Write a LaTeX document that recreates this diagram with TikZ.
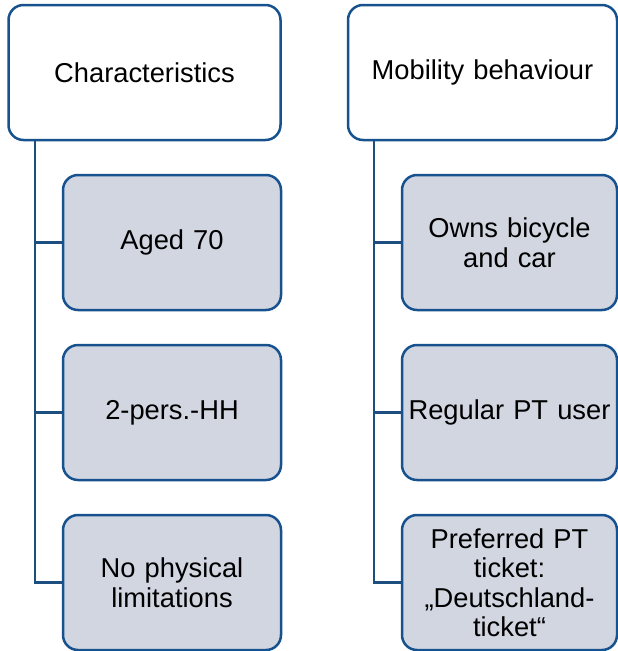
\documentclass[tikz,border=0pt]{standalone}
\usepackage{fontspec}
\setmainfont{Liberation Sans}
\definecolor{frame}{HTML}{17528F}
\definecolor{boxfill}{HTML}{D1D6E1}
\definecolor{linkcol}{HTML}{1D4E80}
\begin{document}
\begin{tikzpicture}[x=1pt,y=-1pt,
  head/.style={draw=frame, line width=2.5pt, fill=white, rounded corners=15pt,
    minimum height=135pt, align=center, inner sep=0pt,
    font=\fontsize{27.3}{29.5}\selectfont},
  item/.style={draw=frame, line width=2.5pt, fill=boxfill, rounded corners=15pt,
    minimum height=135pt, align=center, inner sep=0pt,
    font=\fontsize{27.3}{29.5}\selectfont},
  conn/.style={draw=linkcol, line width=2.4pt}]
\useasboundingbox (0,0) rectangle (618,651);

% left column
\node[head, minimum width=272pt, text width=262pt] (h1) at (144.5,72.5) {Characteristics};
\node[item, minimum width=218pt, text width=212pt] (a1) at (172,242.5) {Aged 70};
\node[item, minimum width=218pt, text width=212pt] (a2) at (172,412.5) {2-pers.-HH};
\node[item, minimum width=218pt, text width=212pt] (a3) at (172,582.5) {No physical\\limitations};

% right column
\node[head, minimum width=269pt, text width=262pt] (h2) at (482.5,72.5) {Mobility behaviour};
\node[item, minimum width=215pt, text width=213pt] (b1) at (509.5,242.5) {Owns bicycle\\and car};
\node[item, minimum width=215pt, text width=213pt] (b2) at (509.5,412.5) {Regular PT user};
\node[item, minimum width=215pt, text width=213pt] (b3) at (509.5,582.5) {Preferred PT\\ticket:\\„Deutschland-\\ticket“};

% trunk lines
\coordinate (ta) at ([xshift=27.5pt]h1.south west);
\coordinate (tb) at ([xshift=27.5pt]h2.south west);
\draw[conn] (ta) |- (a3.west);
\draw[conn] (a1.west -| ta) -- (a1.west);
\draw[conn] (a2.west -| ta) -- (a2.west);
\draw[conn] (tb) |- (b3.west);
\draw[conn] (b1.west -| tb) -- (b1.west);
\draw[conn] (b2.west -| tb) -- (b2.west);
\end{tikzpicture}
\end{document}
